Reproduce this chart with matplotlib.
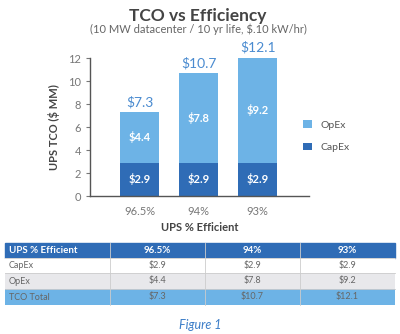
import numpy as np
import matplotlib.pyplot as plt
from matplotlib.patches import Rectangle

plt.rcParams['font.family'] = ['Lato', 'DejaVu Sans']

# data
categories = ['96.5%', '94%', '93%']
capex = [2.9, 2.9, 2.9]
opex = [4.4, 7.8, 9.2]
totals = [7.3, 10.7, 12.1]

c_opex = '#6db3e6'
c_capex = '#2f6cb6'
c_total = '#4a8bd0'
c_text = '#555555'

fig = plt.figure(figsize=(4, 3.34), dpi=100)
fig.patch.set_facecolor('white')

fig.text(0.495, 0.953, 'TCO vs Efficiency', ha='center', va='center',
         fontsize=12.5, fontweight='bold', color='#444444')
fig.text(0.495, 0.913, '(10 MW datacenter / 10 yr life, $.10 kW/hr)', ha='center',
         va='center', fontsize=8, color='#666666')

ax = fig.add_axes([0.225, 0.413, 0.5475, 0.413])
x = np.arange(len(categories))
w = 0.66
b1 = ax.bar(x, capex, w, color=c_capex, label='CapEx')
b2 = ax.bar(x, opex, w, bottom=capex, color=c_opex, label='OpEx')

for i in range(len(categories)):
    ax.text(x[i], capex[i] / 2, f'${capex[i]}', ha='center', va='center',
            color='white', fontsize=8, fontweight='bold')
    ax.text(x[i], capex[i] + opex[i] / 2, f'${opex[i]}', ha='center', va='center',
            color='white', fontsize=8, fontweight='bold')
    ax.text(x[i], totals[i] + 0.3, f'${totals[i]}', ha='center', va='bottom',
            color=c_total, fontsize=10)

ax.set_xlim(-0.84, 2.87)
ax.set_ylim(0, 12)
ax.set_yticks(range(0, 13, 2))
ax.set_xticks(x)
ax.set_xticklabels(categories)
ax.tick_params(axis='x', length=0, pad=7, labelsize=8, colors='#777777')
ax.tick_params(axis='y', length=3, direction='out', labelsize=8, colors='#777777')
for s in ['top', 'right']:
    ax.spines[s].set_visible(False)
for s in ['left', 'bottom']:
    ax.spines[s].set_color('#555555')
    ax.spines[s].set_linewidth(1)
ax.set_xlabel('UPS % Efficient', fontsize=8, fontweight='bold', color='#444444', labelpad=4)
ax.set_ylabel('UPS TCO ($ MM)', fontsize=8, fontweight='bold', color='#444444', labelpad=6)

leg = fig.legend(handles=[b2, b1], labels=['OpEx', 'CapEx'], loc='center left',
                 bbox_to_anchor=(0.735, 0.592), frameon=False, fontsize=7.5,
                 handlelength=0.8, handleheight=0.8, labelspacing=1.2, handletextpad=0.8)
for t in leg.get_texts():
    t.set_color('#555555')

# table
tab = fig.add_axes([0, 0, 1, 1])
tab.set_xlim(0, 400)
tab.set_ylim(334, 0)
tab.axis('off')

col_edges = [5, 110, 205, 300, 395]
row_edges = [243, 258, 273, 289, 305]
header = ['UPS % Efficient'] + categories
rows = [['CapEx'] + [f'${v}' for v in capex],
        ['OpEx'] + [f'${v}' for v in opex],
        ['TCO Total'] + [f'${v}' for v in totals]]
row_bg = ['white', '#e8e8eb', c_opex]

tab.add_patch(Rectangle((col_edges[0], row_edges[0]), col_edges[-1] - col_edges[0],
                        row_edges[1] - row_edges[0], color=c_capex))
for j in range(4):
    xc = (col_edges[j] + col_edges[j + 1]) / 2 if j > 0 else col_edges[0] + 4
    tab.text(xc, (row_edges[0] + row_edges[1]) / 2, header[j], color='white',
             fontsize=7, fontweight='bold', ha='center' if j > 0 else 'left', va='center')
for i, r in enumerate(rows):
    y0, y1 = row_edges[i + 1], row_edges[i + 2]
    tab.add_patch(Rectangle((col_edges[0], y0), col_edges[-1] - col_edges[0], y1 - y0,
                            facecolor=row_bg[i], edgecolor='none'))
    for j in range(4):
        xc = (col_edges[j] + col_edges[j + 1]) / 2 if j > 0 else col_edges[0] + 4
        tab.text(xc, (y0 + y1) / 2, r[j], color='#666666', fontsize=6.5,
                 ha='center' if j > 0 else 'left', va='center')
for xe in col_edges[1:-1]:
    tab.plot([xe, xe], [row_edges[0], row_edges[-1]], color='#cccccc', lw=0.6)
for ye in row_edges[1:-1]:
    tab.plot([col_edges[0], col_edges[-1]], [ye, ye], color='#cccccc', lw=0.6)

fig.text(0.5, 1 - 325 / 334, 'Figure 1', ha='center', va='center', fontsize=9,
         style='italic', color='#3b7dc8')

fig.savefig('out.png', dpi=100, facecolor='white')
